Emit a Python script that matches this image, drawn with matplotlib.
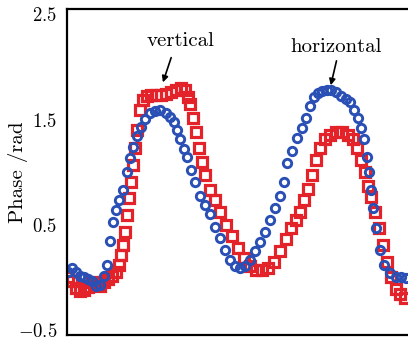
import matplotlib
matplotlib.use("Agg")
import matplotlib.pyplot as plt
import matplotlib.transforms as mtransforms

plt.rcParams['font.family'] = ['cmr10', 'DejaVu Serif']
plt.rcParams['mathtext.fontset'] = 'cm'
plt.rcParams['axes.formatter.use_mathtext'] = True

# vertical polarisation (red squares)
x_vert = [1, 5, 9, 13, 17, 21, 25, 29, 33, 37, 41, 45, 49, 52, 54, 56, 58, 60, 62, 64,
          66, 68, 70, 73, 76, 80, 84, 89, 94, 99, 104, 109, 114, 118, 121, 123, 126, 129,
          132, 135, 138, 143, 148, 153, 159, 165, 171, 177, 183, 189, 195, 201, 207, 213,
          219, 224, 229, 233, 237, 241, 245, 249, 253, 258, 263, 269, 275, 281, 286, 290,
          294, 298, 301, 304, 308, 312, 316, 320, 324, 329, 333, 338]
y_vert = [0.03, -0.01, -0.07, -0.10, -0.09, -0.06, -0.02, -0.04, -0.05, -0.02, 0.01, 0.04,
          0.08, 0.15, 0.24, 0.34, 0.46, 0.62, 0.78, 0.93, 1.10, 1.26, 1.43, 1.62, 1.71, 1.75,
          1.76, 1.76, 1.76, 1.77, 1.79, 1.81, 1.83, 1.81, 1.74, 1.67, 1.54, 1.41, 1.26, 1.12,
          1.00, 0.86, 0.76, 0.65, 0.53, 0.42, 0.31, 0.21, 0.14, 0.10, 0.10, 0.12, 0.17, 0.28,
          0.39, 0.50, 0.57, 0.65, 0.76, 0.87, 1.00, 1.14, 1.26, 1.34, 1.38, 1.41, 1.41, 1.38,
          1.34, 1.26, 1.14, 1.03, 0.90, 0.79, 0.65, 0.50, 0.34, 0.17, 0.03, -0.08, -0.13, -0.17]

# horizontal polarisation (blue circles)
x_horz = [1, 5, 9, 13, 17, 21, 25, 29, 33, 37, 40, 43, 46, 49, 52, 56, 60, 63, 66, 70, 74,
          78, 83, 88, 93, 99, 103, 107, 110, 113, 117, 120, 124, 128, 133, 138, 143, 148,
          153, 158, 163, 168, 173, 178, 183, 188, 193, 198, 203, 208, 213, 217, 220, 225,
          230, 235, 239, 243, 247, 251, 255, 260, 264, 269, 274, 279, 283, 287, 291, 294,
          297, 300, 302, 304, 306, 309, 313, 317, 323, 329, 334, 339]
y_horz = [0.08, 0.12, 0.08, 0.04, 0.03, 0.01, -0.01, -0.05, -0.04, 0.04, 0.15, 0.37, 0.55,
          0.67, 0.76, 0.86, 1.03, 1.16, 1.27, 1.37, 1.46, 1.53, 1.59, 1.61, 1.62, 1.59, 1.55,
          1.50, 1.43, 1.34, 1.25, 1.17, 1.05, 0.93, 0.80, 0.72, 0.63, 0.51, 0.40, 0.29, 0.19,
          0.14, 0.12, 0.14, 0.19, 0.28, 0.36, 0.46, 0.57, 0.69, 0.80, 0.93, 1.11, 1.23, 1.35,
          1.45, 1.54, 1.66, 1.74, 1.78, 1.80, 1.81, 1.81, 1.79, 1.75, 1.72, 1.69, 1.62, 1.54,
          1.45, 1.34, 1.17, 1.03, 0.86, 0.69, 0.50, 0.29, 0.15, 0.07, 0.03, 0.03, 0.02]

yticks = [-0.5, 0.5, 1.5, 2.5]

fig = plt.figure(figsize=(4.08, 3.42), dpi=100)
ax = fig.add_axes([0.1642, 0.0205, 0.846, 0.9532])

ax.plot(x_vert, y_vert, 's', ms=7, mfc='none', mec='#e3222a', mew=2.3)
ax.plot(x_horz, y_horz, 'o', ms=6, mfc='none', mec='#2a4fb5', mew=2.1)

ax.set_xlim(0, 345)
ax.set_ylim(-0.519, 2.577)
ax.set_xticks([])
ax.set_yticks(yticks)
ax.set_yticklabels(['$-0.5$', '$0.5$', '$1.5$', '$2.5$'])
ax.tick_params(axis='y', length=0, pad=7, labelsize=13.5)
# nudge tick labels up a little so the bottom one stays inside the figure
shift = mtransforms.ScaledTranslation(0, 2 / 72, fig.dpi_scale_trans)
for lab in ax.get_yticklabels():
    lab.set_transform(lab.get_transform() + shift)
for s in ['left', 'top', 'bottom']:
    ax.spines[s].set_linewidth(1.6)
ax.spines['right'].set_visible(False)

ax.set_ylabel('Phase /rad', fontsize=15)
ax.yaxis.set_label_coords(-0.112, 0.5)

# annotations
ax.text(113, 2.226, 'vertical', fontsize=15, ha='center', va='baseline')
ax.annotate('', xy=(95, 1.855), xytext=(105, 2.14),
            arrowprops=dict(arrowstyle='-|>', color='k', lw=1.2, mutation_scale=9))
ax.text(269, 2.169, 'horizontal', fontsize=15, ha='center', va='baseline')
ax.annotate('', xy=(263, 1.827), xytext=(270, 2.11),
            arrowprops=dict(arrowstyle='-|>', color='k', lw=1.2, mutation_scale=9))

fig.savefig('out.png', dpi=100)
